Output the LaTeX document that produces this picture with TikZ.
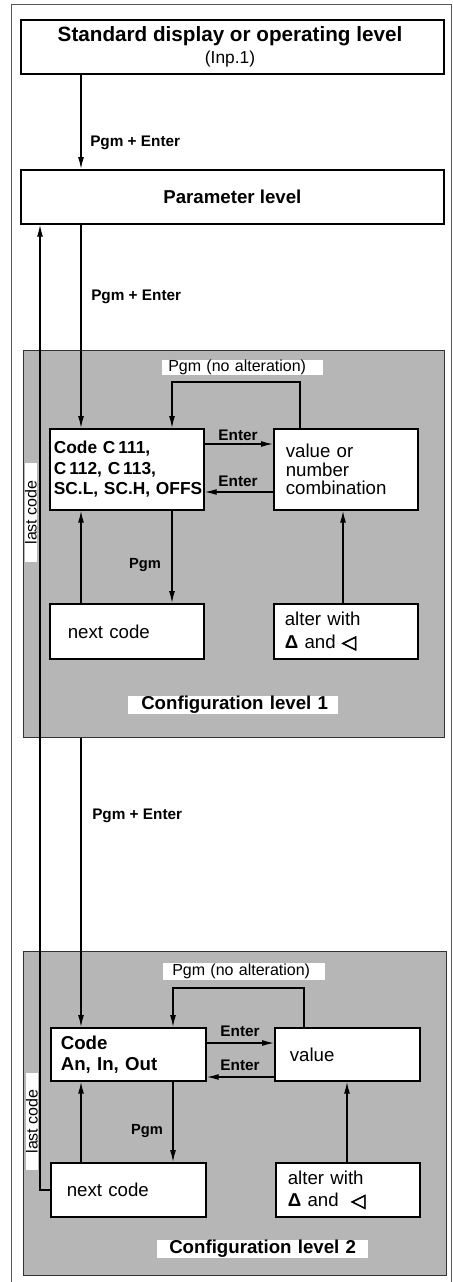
\documentclass[tikz,border=0pt]{standalone}
\usepackage{fontspec}
\setmainfont{Liberation Sans}
\newfontfamily\trifont[FakeBold=3]{DejaVu Sans}
\usetikzlibrary{arrows.meta}
\definecolor{shade}{RGB}{182,182,182}
\newcommand\fs[2]{\fontsize{#1}{#2}\selectfont}

\begin{document}
\begin{tikzpicture}[x=0.75pt,y=-0.75pt,
  lvl/.style={draw=black!80, line width=0.9pt, fill=shade, inner sep=0pt, anchor=north west},
  box/.style={draw, line width=1.3pt, fill=white, inner ysep=0pt, anchor=north west, align=left},
  head/.style={draw, line width=1.3pt, fill=white, inner sep=0pt, anchor=north west,
               minimum width=423*0.75pt, minimum height=54*0.75pt},
  conn/.style={line width=1pt, -{Latex[length=9pt,width=4.5pt]}},
  keylbl/.style={font=\fs{11.5}{13}\bfseries, inner sep=0pt},
  tag/.style={fill=white, inner ysep=0pt, anchor=west, align=left},
  sidetag/.style={fill=white, rotate=90, inner sep=0pt, font=\fs{12}{14}},
]
% page and outer frame
\useasboundingbox (0,0) rectangle (453,1282);
\fill[white] (0,0) rectangle (453,1282);
\draw[black!65, line width=0.7pt] (11,1290) -- (11,4) -- (451,4) -- (451,1290);

% top levels
\node[head] (top) at (20,19) {};
\node[font=\fs{15.5}{18}\bfseries, inner sep=0pt] (toptxt) at (230,36) {Standard display or operating level};
\node[font=\fs{13}{15}, inner sep=0pt] (inp) at (230,59) {(Inp.1)};
\node[head, font=\fs{14}{16}\bfseries] (param) at (20,169) {Parameter level};

% shaded configuration areas
\node[lvl, minimum width=421*0.75pt, minimum height=387*0.75pt] (lvl1) at (23,350) {};
\node[lvl, minimum width=423*0.75pt, minimum height=324*0.75pt] (lvl2) at (23,951) {};

% configuration level 1 boxes
\node[box, inner xsep=4*0.75pt, text width=146*0.75pt, minimum height=81*0.75pt,
      font=\fs{13}{15.4}\bfseries] (code1) at (49,428)
      {\mbox{Code C\,111,}\\\mbox{C\,112, C\,113,}\\\mbox{SC.L, SC.H, OFFS}};
\node[box, inner xsep=12*0.75pt, text width=120*0.75pt, minimum height=81*0.75pt,
      font=\fs{14}{14}] (value1) at (273,428) {value or\\number\\combination};
\node[box, inner xsep=18*0.75pt, text width=118*0.75pt, minimum height=55*0.75pt,
      font=\fs{14}{16}] (next1) at (49,603) {next code};
\node[box, inner xsep=11*0.75pt, text width=122*0.75pt, minimum height=55*0.75pt,
      font=\fs{14}{17}] (alter1) at (273,603)
      {alter with\\{\bfseries Δ} and {\trifont ◁}};

% configuration level 2 boxes
\node[box, inner xsep=10*0.75pt, text width=135*0.75pt, minimum height=53*0.75pt,
      font=\fs{14}{16}\bfseries] (code2) at (50,1027) {Code\\An, In, Out};
\node[box, inner xsep=15*0.75pt, text width=115*0.75pt, minimum height=53*0.75pt,
      font=\fs{14}{16}] (value2) at (274,1027) {value};
\node[box, inner xsep=16*0.75pt, text width=123*0.75pt, minimum height=54*0.75pt,
      font=\fs{14}{16}] (next2) at (50,1162) {next code};
\node[box, inner xsep=12*0.75pt, text width=120*0.75pt, minimum height=54*0.75pt,
      font=\fs{14}{17}] (alter2) at (275,1162)
      {alter with\\{\bfseries Δ} and\ \ {\trifont ◁}};

% routing points
\coordinate (cA) at (81,0);
\coordinate (cL) at (40,0);
\coordinate (l1L) at (172,382);
\coordinate (l1R) at (300,382);
\coordinate (a1) at (343,0);
\coordinate (e1r) at (0,444);
\coordinate (e1l) at (0,492);
\coordinate (l2L) at (173,988);
\coordinate (l2R) at (304,988);
\coordinate (a2) at (347,0);
\coordinate (e2r) at (0,1043);
\coordinate (e2l) at (0,1077);

% main path downwards
\draw[conn] (top.south -| cA) -- (param.north -| cA);
\draw[conn] (param.south -| cA) -- (code1.north -| cA);
\draw[conn] (lvl1.south -| cA) -- (code2.north -| cA);
% return from the last code
\draw[conn] (next2.west) -| (param.south -| cL);

% level 1 connectors
\draw[conn] (value1.north -| l1R) -- (l1R) -- (l1L) -- (code1.north -| l1L);
\draw[conn] (code1.east |- e1r) -- (value1.west |- e1r);
\draw[conn] (value1.west |- e1l) -- (code1.east |- e1l);
\draw[conn] (code1.south -| l1L) -- (next1.north -| l1L);
\draw[conn] (next1.north -| cA) -- (code1.south -| cA);
\draw[conn] (alter1.north -| a1) -- (value1.south -| a1);

% level 2 connectors
\draw[conn] (value2.north -| l2R) -- (l2R) -- (l2L) -- (code2.north -| l2L);
\draw[conn] (code2.east |- e2r) -- (value2.west |- e2r);
\draw[conn] (value2.west |- e2l) -- (code2.east |- e2l);
\draw[conn] (code2.south -| l2L) -- (next2.north -| l2L);
\draw[conn] (next2.north -| cA) -- (code2.south -| cA);
\draw[conn] (alter2.north -| a2) -- (value2.south -| a2);

% key labels
\node[keylbl, anchor=west] (pe1) at (90,143) {Pgm + Enter};
\node[keylbl, anchor=west] (pe2) at (91,297) {Pgm + Enter};
\node[keylbl, anchor=west] (pe3) at (92,816) {Pgm + Enter};
\node[keylbl] (en1a) at (238,435) {Enter};
\node[keylbl] (en1b) at (238,481) {Enter};
\node[keylbl] (en2a) at (240,1031) {Enter};
\node[keylbl] (en2b) at (240,1065) {Enter};
\node[keylbl, font=\fs{11}{13}\bfseries] (pg1) at (145,565) {Pgm};
\node[keylbl, font=\fs{11}{13}\bfseries] (pg2) at (147,1131) {Pgm};

% white tags
\node[tag, inner xsep=6*0.75pt, text width=149*0.75pt, minimum height=15*0.75pt,
      font=\fs{12}{14}] (na1) at (162,367.5) {Pgm (no alteration)};
\node[tag, inner xsep=9*0.75pt, text width=144*0.75pt, minimum height=17*0.75pt,
      font=\fs{12}{14}] (na2) at (163,971.5) {Pgm (no alteration)};
\node[tag, inner xsep=13*0.75pt, text width=184*0.75pt, minimum height=16*0.75pt,
      font=\fs{14}{16}\bfseries] (cf1) at (128,705) {\mbox{Configuration level 1}};
\node[tag, inner xsep=12*0.75pt, text width=187*0.75pt, minimum height=18*0.75pt,
      font=\fs{14}{16}\bfseries] (cf2) at (157,1249) {\mbox{Configuration level 2}};
\node[sidetag, minimum width=99*0.75pt, minimum height=12*0.75pt] (lc1) at (31,512.5) {last code};
\node[sidetag, minimum width=97*0.75pt, minimum height=12*0.75pt] (lc2) at (32,1121.5) {last code};
\end{tikzpicture}
\end{document}
